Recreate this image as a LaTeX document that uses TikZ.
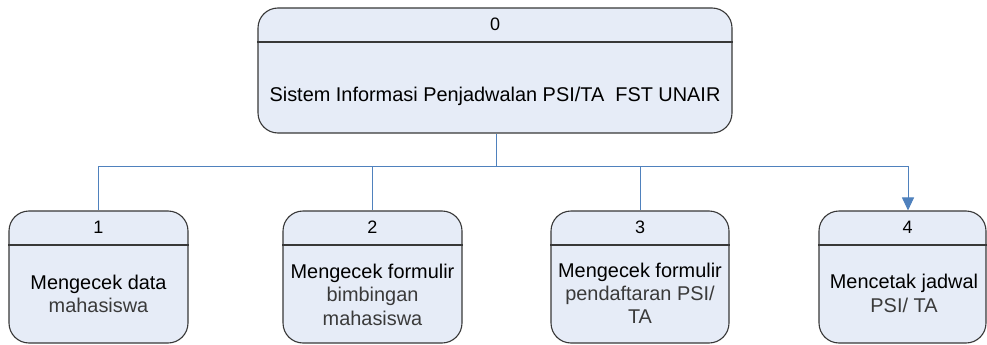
\documentclass[tikz,border=0pt]{standalone}
\usepackage{fontspec}
\setmainfont{Liberation Sans}
\usetikzlibrary{arrows.meta}
\definecolor{boxfill}{HTML}{E6ECF7}
\definecolor{boxline}{HTML}{383838}
\definecolor{linkblue}{HTML}{4F81BD}
\definecolor{softtext}{HTML}{3A3A3A}

\begin{document}
\begin{tikzpicture}[x=1pt,y=-1pt,
  procbox/.style={draw=boxline, fill=boxfill, line width=1.1pt,
    rounded corners=20pt, inner sep=0pt, rectangle},
  divider/.style={draw=boxline, line width=1.1pt},
  numtext/.style={anchor=base, inner sep=0pt, font=\fontsize{18}{21}\selectfont},
  labeltext/.style={anchor=base, inner sep=0pt, font=\fontsize{19.9}{23.5}\selectfont},
  sublabel/.style={labeltext, text=softtext},
  link/.style={draw=linkblue, line width=1pt},
  linktip/.style={-{Triangle[width=12pt,length=13pt]}},
]
\useasboundingbox (0,0) rectangle (987,345);

% process boxes
\node[procbox, minimum width=474pt, minimum height=125pt] (p0) at (495,70.5) {};
\node[procbox, minimum width=179pt, minimum height=132pt] (p1) at (98.5,277) {};
\node[procbox, minimum width=179pt, minimum height=132pt] (p2) at (372.5,277) {};
\node[procbox, minimum width=178pt, minimum height=132pt] (p3) at (640,277) {};
\node[procbox, minimum width=167pt, minimum height=132pt] (p4) at (902.5,277) {};

% header dividers
\draw[divider] (p0.west |- 0,42) -- (p0.east |- 0,42);
\foreach \b in {p1,p2,p3,p4}
  \draw[divider] (\b.west |- 0,245) -- (\b.east |- 0,245);

% numbers
\node[numtext] (n0) at (495,30.5) {0};
\node[numtext] (n1) at (98.5,233) {1};
\node[numtext] (n2) at (372.5,233) {2};
\node[numtext] (n3) at (640,233) {3};
\node[numtext] (n4) at (907.5,233) {4};

% labels
\node[labeltext] (l0) at (495,101) {Sistem Informasi Penjadwalan PSI/TA\ \ FST UNAIR};

\node[labeltext] (l1a) at (98.5,289) {Mengecek data};
\node[sublabel]  (l1b) at (98.5,312) {mahasiswa};

\node[labeltext] (l2a) at (372.5,278) {Mengecek formulir};
\node[sublabel]  (l2b) at (372.5,301.5) {bimbingan};
\node[sublabel]  (l2c) at (372.5,325) {mahasiswa};

\node[labeltext] (l3a) at (640,277) {Mengecek formulir};
\node[sublabel]  (l3b) at (640,300) {pendaftaran PSI/};
\node[sublabel]  (l3c) at (640,323) {TA};

\node[labeltext] (l4a) at (904,288) {Mencetak jadwal};
\node[sublabel]  (l4b) at (904,312) {PSI/ TA};

% connectors
\coordinate (hub) at (496,166);
\draw[link] (p0.south -| hub) -- (hub);
\draw[link] (hub) -| (p1.north);
\draw[link] (hub) -| (p2.north);
\draw[link] (hub) -| (p3.north);
\draw[link, linktip] (hub) -| ([xshift=5.5pt]p4.north);
\end{tikzpicture}
\end{document}
